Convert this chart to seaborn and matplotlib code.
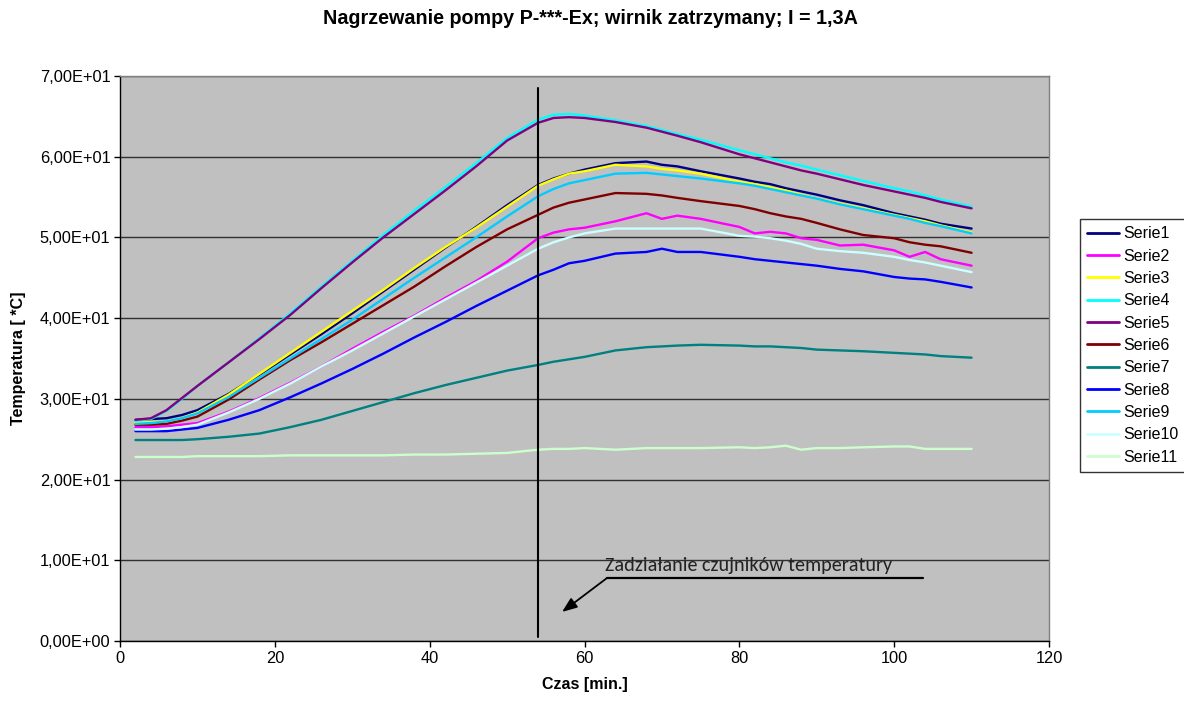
import matplotlib
matplotlib.use("Agg")
import matplotlib.pyplot as plt
import seaborn as sns
import pandas as pd
from matplotlib.ticker import FuncFormatter, MultipleLocator

# ---------------- data ----------------
time_min = [2, 4, 6, 8, 10, 14, 18, 22, 26, 30, 34, 38, 42, 46, 50, 54, 56, 58, 60,
            64, 68, 70, 72, 75, 80, 82, 84, 86, 88, 90, 93, 96, 100, 102, 104, 106, 110]

serie1 = [27.4, 27.5, 27.6, 28.0, 28.6, 30.6, 33.0, 35.5, 38.0, 40.6, 43.3, 46.0, 48.7, 51.3, 54.0, 56.5, 57.3, 57.9, 58.4,
          59.2, 59.4, 59.0, 58.8, 58.2, 57.3, 56.9, 56.6, 56.1, 55.7, 55.3, 54.6, 54.0, 53.0, 52.6, 52.2, 51.7, 51.1]
serie2 = [26.5, 26.5, 26.6, 26.8, 27.0, 28.4, 30.1, 32.0, 34.0, 36.2, 38.3, 40.3, 42.5, 44.6, 47.0, 49.9, 50.6, 51.0, 51.2,
          52.0, 53.0, 52.3, 52.7, 52.3, 51.3, 50.5, 50.7, 50.5, 49.9, 49.7, 49.0, 49.1, 48.4, 47.6, 48.2, 47.3, 46.5]
serie3 = [27.0, 27.1, 27.2, 27.6, 28.3, 30.5, 33.1, 35.7, 38.3, 40.9, 43.5, 46.2, 48.8, 51.2, 53.8, 56.4, 57.2, 57.9, 58.2,
          59.0, 58.8, 58.5, 58.3, 57.9, 56.9, 56.6, 56.2, 55.8, 55.3, 54.8, 54.2, 53.6, 52.8, 52.4, 52.0, 51.5, 50.6]
serie4 = [27.3, 27.5, 28.5, 30.0, 31.6, 34.5, 37.5, 40.6, 43.9, 47.1, 50.3, 53.3, 56.2, 59.2, 62.3, 64.6, 65.2, 65.3, 65.1,
          64.5, 63.8, 63.3, 62.8, 62.1, 60.8, 60.3, 59.8, 59.3, 58.9, 58.4, 57.7, 57.0, 56.1, 55.7, 55.2, 54.7, 53.8]
serie5 = [27.4, 27.6, 28.6, 30.1, 31.6, 34.5, 37.4, 40.4, 43.7, 46.9, 50.0, 52.9, 55.8, 58.8, 62.0, 64.2, 64.8, 64.9, 64.8,
          64.3, 63.6, 63.1, 62.6, 61.8, 60.3, 59.8, 59.3, 58.8, 58.3, 57.9, 57.2, 56.5, 55.7, 55.3, 54.9, 54.4, 53.6]
serie6 = [26.8, 26.8, 26.9, 27.3, 27.8, 29.9, 32.4, 34.8, 37.0, 39.3, 41.6, 43.9, 46.4, 48.8, 51.0, 52.8, 53.7, 54.3, 54.7,
          55.5, 55.4, 55.2, 54.9, 54.5, 53.9, 53.5, 53.0, 52.6, 52.3, 51.8, 51.0, 50.3, 49.9, 49.4, 49.1, 48.9, 48.1]
serie7 = [24.9, 24.9, 24.9, 24.9, 25.0, 25.3, 25.7, 26.5, 27.4, 28.5, 29.6, 30.7, 31.7, 32.6, 33.5, 34.2, 34.6, 34.9, 35.2,
          36.0, 36.4, 36.5, 36.6, 36.7, 36.6, 36.5, 36.5, 36.4, 36.3, 36.1, 36.0, 35.9, 35.7, 35.6, 35.5, 35.3, 35.1]
serie8 = [26.0, 26.0, 26.0, 26.2, 26.4, 27.4, 28.6, 30.2, 31.9, 33.7, 35.6, 37.6, 39.5, 41.5, 43.4, 45.3, 46.0, 46.8, 47.1,
          48.0, 48.2, 48.6, 48.2, 48.2, 47.6, 47.3, 47.1, 46.9, 46.7, 46.5, 46.1, 45.8, 45.1, 44.9, 44.8, 44.5, 43.8]
serie9 = [26.9, 27.0, 27.2, 27.6, 28.2, 30.2, 32.6, 35.0, 37.4, 39.8, 42.4, 45.0, 47.5, 50.0, 52.6, 55.1, 56.0, 56.7, 57.1,
          57.9, 58.0, 57.8, 57.6, 57.3, 56.7, 56.4, 56.0, 55.6, 55.2, 54.8, 54.1, 53.5, 52.7, 52.3, 51.8, 51.4, 50.5]
serie10 = [26.2, 26.2, 26.3, 26.5, 26.8, 28.3, 30.0, 31.9, 34.0, 36.0, 38.1, 40.2, 42.3, 44.4, 46.5, 48.6, 49.4, 50.0, 50.5,
           51.1, 51.1, 51.1, 51.1, 51.1, 50.2, 50.1, 49.9, 49.6, 49.2, 48.6, 48.3, 48.1, 47.6, 47.2, 46.9, 46.5, 45.7]
serie11 = [22.8, 22.8, 22.8, 22.8, 22.9, 22.9, 22.9, 23.0, 23.0, 23.0, 23.0, 23.1, 23.1, 23.2, 23.3, 23.7, 23.8, 23.8, 23.9,
           23.7, 23.9, 23.9, 23.9, 23.9, 24.0, 23.9, 24.0, 24.2, 23.7, 23.9, 23.9, 24.0, 24.1, 24.1, 23.8, 23.8, 23.8]

series_names = ["Serie1", "Serie2", "Serie3", "Serie4", "Serie5", "Serie6",
                "Serie7", "Serie8", "Serie9", "Serie10", "Serie11"]
series_values = [serie1, serie2, serie3, serie4, serie5, serie6,
                 serie7, serie8, serie9, serie10, serie11]
series_colors = ["#000080", "#FF00FF", "#FFFF00", "#00FFFF", "#800080", "#800000",
                 "#008080", "#0000FF", "#00CCFF", "#CCFFFF", "#CCFFCC"]

trigger_time = 54          # sensor trigger moment [min]
trigger_span = (0.5, 68.5)  # vertical extent of marker line
annotation_text = "Zadziałanie czujników temperatury"

title = "Nagrzewanie pompy P-***-Ex; wirnik zatrzymany; I = 1,3A"
xlabel = "Czas [min.]"
ylabel = "Temperatura [ *C]"

# ---------------- build table ----------------
rows = []
for name, vals in zip(series_names, series_values):
    for t, v in zip(time_min, vals):
        rows.append({"t": t, "T": v, "seria": name})
df = pd.DataFrame(rows)

# ---------------- plot ----------------
sns.set_style("white")
plt.rcParams["font.family"] = ["Liberation Sans", "DejaVu Sans"]
plt.rcParams["text.color"] = "black"
plt.rcParams["axes.labelcolor"] = "black"
plt.rcParams["xtick.color"] = "black"
plt.rcParams["ytick.color"] = "black"

W, H = 1184, 704
fig = plt.figure(figsize=(W / 100, H / 100), dpi=100)
ax = fig.add_axes([120 / W, 1 - 641 / H, (1049 - 120) / W, (641 - 76) / H])
ax.set_facecolor("#C0C0C0")

sns.lineplot(data=df, x="t", y="T", hue="seria", hue_order=series_names,
             palette=dict(zip(series_names, series_colors)), linewidth=1.7,
             ax=ax, legend=True, sort=True, errorbar=None)

ax.set_xlim(0, 120)
ax.set_ylim(0, 70)
ax.xaxis.set_major_locator(MultipleLocator(20))
ax.yaxis.set_major_locator(MultipleLocator(10))
ax.yaxis.set_major_formatter(FuncFormatter(lambda v, p: f"{v:.2E}".replace(".", ",")))
ax.yaxis.grid(True, color="#303030", linewidth=1.0)
ax.set_axisbelow(True)
ax.tick_params(axis="both", direction="out", length=4, width=1, color="black",
               labelcolor="black", labelsize=11.8, pad=3, left=True, bottom=True)

for side in ["left", "bottom"]:
    ax.spines[side].set_color("black")
    ax.spines[side].set_linewidth(1.0)
for side in ["top", "right"]:
    ax.spines[side].set_color("#808080")
    ax.spines[side].set_linewidth(1.0)

ax.set_xlabel(xlabel, fontsize=11.5, fontweight="bold", labelpad=8, color="black")
ax.set_ylabel(ylabel, fontsize=11.5, fontweight="bold", labelpad=10, color="black")
fig.text(590 / W, 1 - 18 / H, title, ha="center", va="center",
         fontsize=14.2, fontweight="bold", color="black")

# trigger marker
ax.plot([trigger_time, trigger_time], list(trigger_span), color="black", linewidth=1.5)

# annotation
ax.annotate("", xy=(57.1, 3.6), xytext=(62.9, 7.8),
            arrowprops=dict(arrowstyle="-|>,head_length=0.9,head_width=0.35",
                            color="black", linewidth=1.3, shrinkA=0, shrinkB=0))
ax.plot([62.9, 103.7], [7.8, 7.8], color="black", linewidth=1.6)
ax.text(62.6, 8.35, annotation_text, fontsize=14.5, family=["Carlito", "DejaVu Sans"],
        color="#222222", ha="left", va="bottom")

# legend
leg = ax.legend(loc="upper left", bbox_to_anchor=(1080 / W, 1 - 219 / H),
                bbox_transform=fig.transFigure, frameon=True, fancybox=False,
                fontsize=11.5, handlelength=2.0, labelspacing=0.46,
                borderpad=0.45, handletextpad=0.25, borderaxespad=0)
leg.get_frame().set_edgecolor("black")
leg.get_frame().set_linewidth(1.0)
leg.get_frame().set_facecolor("white")
leg.set_title(None)
for text in leg.get_texts():
    text.set_color("black")
for line in leg.get_lines():
    line.set_linewidth(2.0)

fig.savefig("out.png", dpi=100, facecolor="white")
